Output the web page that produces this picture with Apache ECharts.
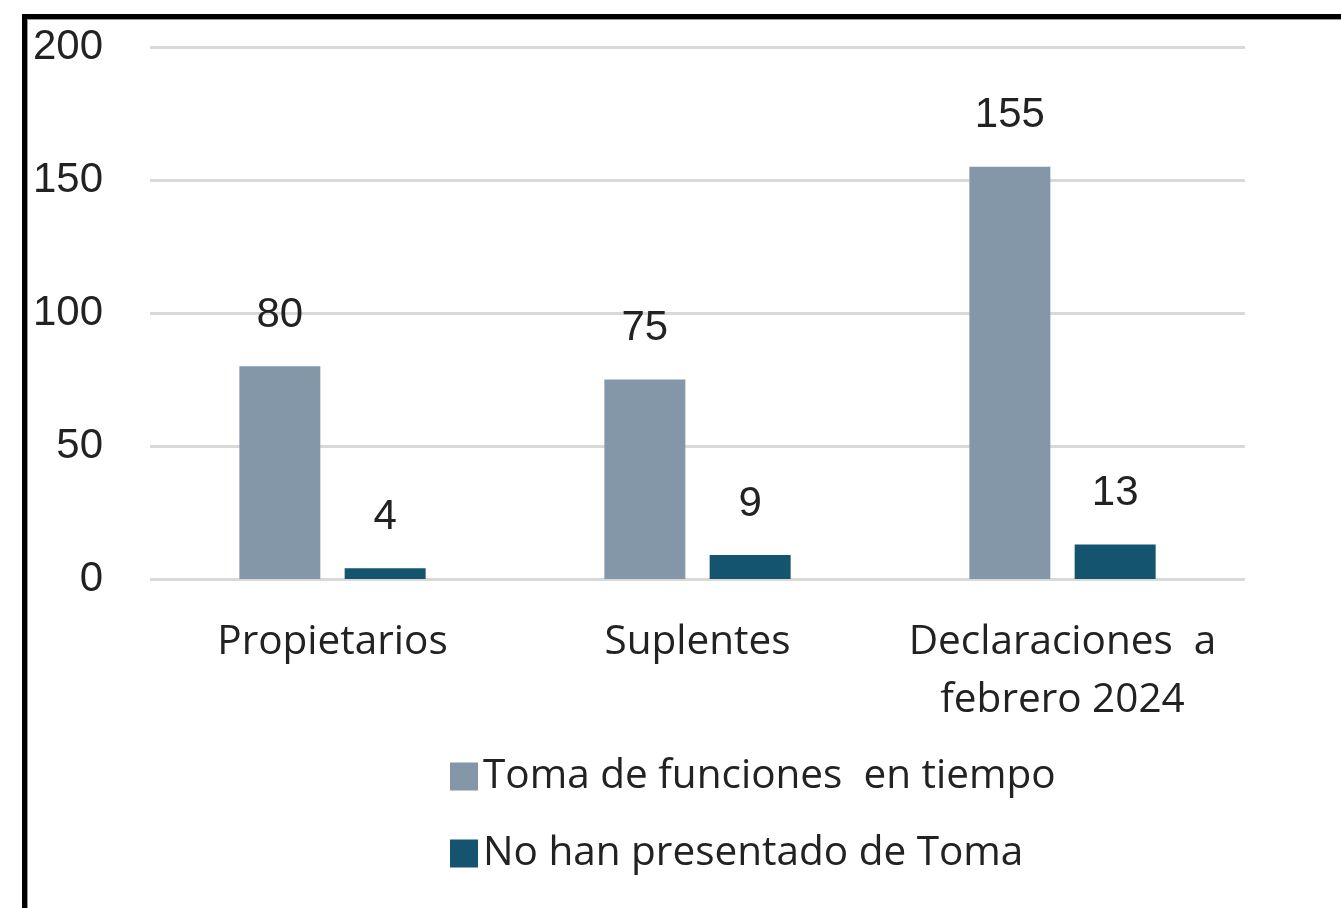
<!DOCTYPE html>
<html>
<head>
<meta charset="utf-8">
<script src="https://cdn.jsdelivr.net/npm/echarts@6/dist/echarts.min.js"></script>
<style>
  html, body { margin: 0; padding: 0; background: #fff; }
  #chart { width: 1341px; height: 908px; }
  .frame {
    position: absolute; left: 22px; top: 14px; right: 0; bottom: 0;
    border-left: 5px solid #000; border-top: 5px solid #000;
    box-shadow: inset 1px 1px 0 #999;
    pointer-events: none;
  }
</style>
</head>
<body>
<div id="chart"></div>
<div class="frame"></div>
<script>
// datos
const categorias = ['Propietarios', 'Suplentes', 'Declaraciones  a\nfebrero 2024'];
const tomaEnTiempo = [80, 75, 155];
const noPresentado = [4, 9, 13];
const nombres = ['Toma de funciones  en tiempo', 'No han presentado de Toma'];

const chart = echarts.init(document.getElementById('chart'));

const etiqueta = {
  show: true,
  position: 'top',
  distance: 30,
  color: '#222',
  fontSize: 42,
  fontFamily: 'Liberation Sans, Arial'
};

chart.setOption({
  animation: false,
  grid: { left: 150, right: 96, top: 47, bottom: 329 },
  legend: {
    orient: 'vertical',
    left: 445,
    top: 751,
    itemWidth: 28,
    itemHeight: 28,
    itemGap: 36,
    icon: 'rect',
    textStyle: { fontSize: 40.5, color: '#222', fontFamily: 'Open Sans' },
    data: nombres
  },
  xAxis: {
    type: 'category',
    data: categorias,
    axisLine: { show: false },
    axisTick: { show: false },
    axisLabel: {
      fontSize: 40.5,
      lineHeight: 58,
      margin: 34,
      color: '#222',
      fontFamily: 'Open Sans',
      interval: 0
    }
  },
  yAxis: {
    type: 'value',
    min: 0,
    max: 200,
    interval: 50,
    axisLabel: {
      fontSize: 42,
      margin: 47,
      color: '#222',
      fontFamily: 'Liberation Sans, Arial'
    },
    splitLine: { lineStyle: { color: '#d9d9d9', width: 3 } }
  },
  series: [
    {
      name: nombres[0],
      type: 'bar',
      data: tomaEnTiempo,
      barWidth: 81,
      barGap: '30%',
      itemStyle: { color: '#8497a9' },
      label: etiqueta
    },
    {
      name: nombres[1],
      type: 'bar',
      data: noPresentado,
      barWidth: 81,
      itemStyle: { color: '#15546e' },
      label: etiqueta
    }
  ]
});
</script>
</body>
</html>
